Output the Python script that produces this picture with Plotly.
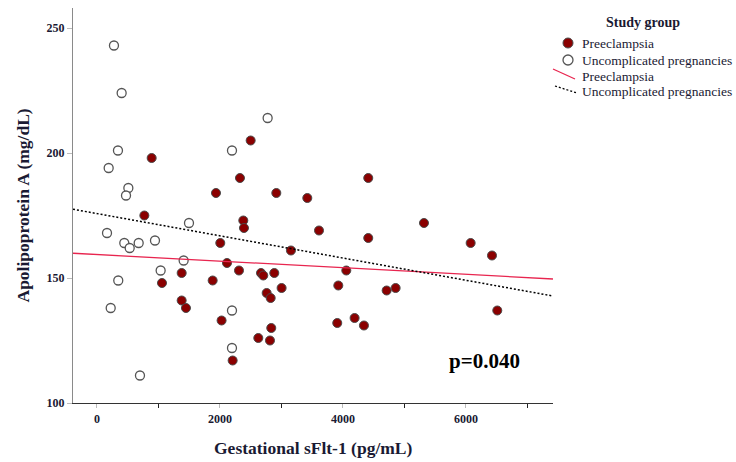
import plotly.graph_objects as go

# ---- data ----
pe_x = [889, 770, 1057, 1377, 1377, 1447, 1881, 1935, 2005, 2026, 2114, 2206, 2309,
        2325, 2379, 2390, 2499, 2623, 2667, 2704, 2759, 2813, 2824, 2834, 2883, 2916,
        3002, 3154, 3420, 3610, 3907, 3924, 4054, 4189, 4341, 4411, 4411, 4710, 4856,
        5317, 6076, 6423, 6509]
pe_y = [198, 175, 148, 152, 141, 138, 149, 184, 164, 133, 156, 117, 153,
        190, 173, 170, 205, 126, 152, 151, 144, 125, 142, 130, 152, 184,
        146, 161, 182, 169, 132, 147, 153, 134, 131, 190, 166, 145, 146,
        172, 164, 159, 137]

uc_x = [276, 401, 341, 190, 510, 472, 163, 444, 532, 678, 943, 346, 223, 699,
        1035, 1409, 1496, 2195, 2775, 2195, 2195]
uc_y = [243, 224, 201, 194, 186, 183, 168, 164, 162, 164, 165, 149, 138, 111,
        153, 157, 172, 201, 214, 137, 122]

fit_x = [-390, 7415]
pe_fit_y = [159.9, 149.6]
uc_fit_y = [177.5, 142.8]

x_range = [-390, 7415]
y_range = [100, 258]
x_ticks = [0, 2000, 4000, 6000]
y_ticks = [100, 150, 200, 250]

legend_title = "Study group"
legend_labels = ["Preeclampsia", "Uncomplicated pregnancies",
                 "Preeclampsia", "Uncomplicated pregnancies"]

SERIF = "Liberation Serif, Times New Roman, serif"
TXT = "#1a1a33"
PE_COLOR = "#8b0000"
LINE_RED = "#e8254f"

W, H = 736, 462
L, R, T, B = 73, 183, 8, 59
PW, PH = W - L - R, H - T - B


def px(x, y):
    """pixel position in the page -> paper coordinates (for legend decoration)"""
    return (x - L) / PW, (H - B - y) / PH


fig = go.Figure()
fig.add_trace(go.Scatter(
    x=pe_x, y=pe_y, mode="markers", name=legend_labels[0],
    marker=dict(size=9, color=PE_COLOR, line=dict(color="#4a4a4a", width=1)),
))
fig.add_trace(go.Scatter(
    x=uc_x, y=uc_y, mode="markers", name=legend_labels[1],
    marker=dict(size=9, color="white", line=dict(color="#555555", width=1.3)),
))
fig.add_trace(go.Scatter(
    x=fit_x, y=pe_fit_y, mode="lines", name=legend_labels[2],
    line=dict(color=LINE_RED, width=1.3),
))
fig.add_trace(go.Scatter(
    x=fit_x, y=uc_fit_y, mode="lines", name=legend_labels[3],
    line=dict(color="black", width=1.5, dash="2px,2px"),
))

# ---- hand-built legend (to match the compact layout of the reference) ----
shapes = []
annotations = []
tx, ty = px(643, 23)
annotations.append(dict(text="<b>" + legend_title + "</b>", xref="paper", yref="paper",
                        x=tx, y=ty, xanchor="center", yanchor="middle", showarrow=False,
                        font=dict(family=SERIF, size=14, color=TXT)))
row_y = [43, 60, 76, 91]
for lab, yy in zip(legend_labels, row_y):
    ax, ay = px(580, yy)
    annotations.append(dict(text=lab, xref="paper", yref="paper", x=ax, y=ay,
                            xanchor="left", yanchor="middle", showarrow=False,
                            font=dict(family=SERIF, size=13.5, color=TXT)))
# symbols
x0, y0 = px(563, 38)
x1, y1 = px(573, 48)
shapes.append(dict(type="circle", xref="paper", yref="paper", x0=x0, y0=y0, x1=x1, y1=y1,
                   fillcolor=PE_COLOR, line=dict(color="#4a4a4a", width=1)))
x0, y0 = px(563, 55)
x1, y1 = px(573, 65)
shapes.append(dict(type="circle", xref="paper", yref="paper", x0=x0, y0=y0, x1=x1, y1=y1,
                   fillcolor="white", line=dict(color="#555555", width=1.3)))
x0, y0 = px(553, 69)
x1, y1 = px(575, 79)
shapes.append(dict(type="line", xref="paper", yref="paper", x0=x0, y0=y0, x1=x1, y1=y1,
                   line=dict(color=LINE_RED, width=1.3)))
x0, y0 = px(555, 86)
x1, y1 = px(577, 93)
shapes.append(dict(type="line", xref="paper", yref="paper", x0=x0, y0=y0, x1=x1, y1=y1,
                   line=dict(color="black", width=1.3, dash="2px,2px")))

# axis titles and p-value
annotations += [
    dict(text="<b>Apolipoprotein A (mg/dL)</b>", xref="paper", yref="paper",
         x=px(22, 0)[0], y=0.5, xanchor="center", yanchor="middle", textangle=-90,
         showarrow=False, font=dict(family=SERIF, size=17.5, color=TXT)),
    dict(text="<b>Gestational sFlt-1 (pg/mL)</b>", xref="paper", yref="paper",
         x=0.5, y=px(0, 448)[1], xanchor="center", yanchor="middle",
         showarrow=False, font=dict(family=SERIF, size=17.5, color=TXT)),
    dict(text="<b>p=0.040</b>", xref="x", yref="y",
         x=6300, y=117, xanchor="center", yanchor="middle",
         showarrow=False, font=dict(family=SERIF, size=21, color="black")),
]

fig.update_layout(
    width=W, height=H,
    margin=dict(l=L, r=R, t=T, b=B, autoexpand=False),
    paper_bgcolor="white", plot_bgcolor="white",
    font=dict(family=SERIF, color=TXT),
    showlegend=False,
    xaxis=dict(
        range=x_range, tickvals=x_ticks, ticktext=[str(v) for v in x_ticks],
        showgrid=False, zeroline=False,
        showline=True, linecolor="#333333", linewidth=1.2,
        ticks="outside", ticklen=4, tickcolor="#bbbbbb",
        minor=dict(dtick=1000, tick0=0, ticks="outside", ticklen=4, tickcolor="#222222"),
        tickfont=dict(family=SERIF, size=12, color=TXT, weight="bold"),
    ),
    yaxis=dict(
        range=y_range, tickvals=y_ticks, ticktext=[str(v) for v in y_ticks],
        showgrid=False, zeroline=False,
        showline=True, linecolor="#8a8a8a", linewidth=1.2,
        ticks="outside", ticklen=5, tickcolor="#bbbbbb",
        tickfont=dict(family=SERIF, size=12, color=TXT, weight="bold"),
    ),
    shapes=shapes,
    annotations=annotations,
)

fig.write_html("out.html", config={"displayModeBar": False},
               post_script="document.body.style.margin='0';")
